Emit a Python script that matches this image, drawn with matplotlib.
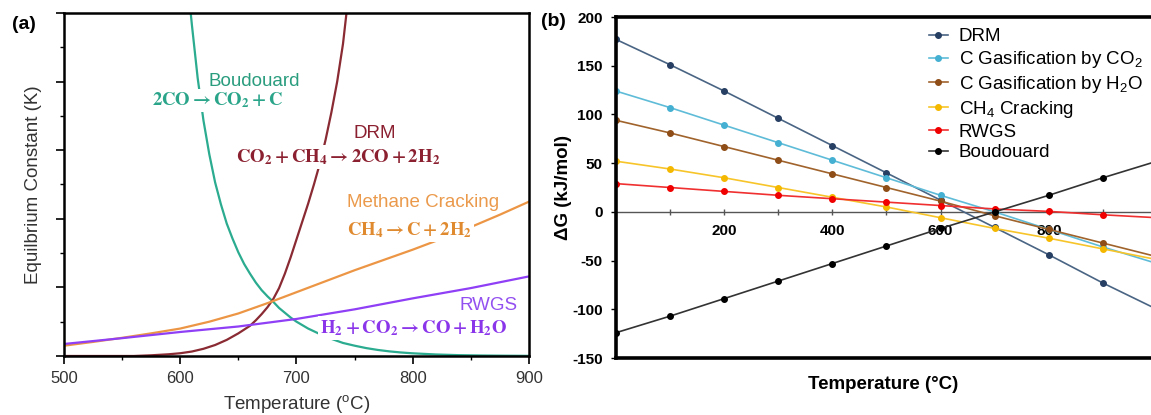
import matplotlib
matplotlib.use("Agg")
import matplotlib.pyplot as plt
import numpy as np
from matplotlib.ticker import MultipleLocator

plt.rcParams['font.family'] = ['Liberation Sans', 'DejaVu Sans']
plt.rcParams['mathtext.fontset'] = 'custom'
plt.rcParams['mathtext.rm'] = 'Liberation Sans'
plt.rcParams['mathtext.it'] = 'Liberation Sans:italic'
plt.rcParams['mathtext.bf'] = 'Liberation Sans:bold'
plt.rcParams['axes.unicode_minus'] = False

# ---- panel (a): equilibrium constants (arbitrary units)
boud_T = [609, 610, 615, 620, 625, 630, 635, 640, 645, 650, 655, 660, 665, 670, 675, 680, 685, 690, 695, 700,
          710, 720, 730, 740, 750, 760, 770, 780, 790, 800, 820, 840, 860, 880, 900]
boud_K = [5.0, 4.83, 4.05, 3.43, 2.94, 2.53, 2.21, 1.93, 1.71, 1.51, 1.34, 1.20, 1.07, 0.96, 0.87, 0.79, 0.70,
          0.63, 0.56, 0.50, 0.40, 0.32, 0.25, 0.19, 0.15, 0.115, 0.088, 0.067, 0.051, 0.039, 0.022, 0.012,
          0.007, 0.004, 0.002]

drm_T = [500, 560, 575, 590, 600, 610, 620, 630, 640, 650, 660, 665, 670, 675, 680, 685, 690, 695, 700,
         705, 710, 715, 720, 725, 730, 735, 740, 743]
drm_K = [0.0, 0.0, 0.01, 0.025, 0.04, 0.065, 0.105, 0.16, 0.235, 0.33, 0.44, 0.52, 0.61, 0.71, 0.83, 0.99,
         1.20, 1.44, 1.70, 1.96, 2.22, 2.50, 2.80, 3.15, 3.55, 4.00, 4.55, 5.0]

mc_T = [500, 525, 550, 575, 600, 625, 650, 675, 700, 725, 750, 775, 800, 825, 850, 875, 900]
mc_K = [0.15, 0.205, 0.265, 0.33, 0.40, 0.50, 0.62, 0.77, 0.93, 1.09, 1.25, 1.40, 1.55, 1.71, 1.88, 2.06, 2.25]

rwgs_T = [500, 550, 600, 650, 700, 750, 800, 850, 900]
rwgs_K = [0.175, 0.26, 0.35, 0.43, 0.54, 0.68, 0.84, 0.99, 1.16]

# ---- panel (b): Gibbs free energy vs temperature
temps = [0, 100, 200, 300, 400, 500, 600, 700, 800, 900, 1000]
dG = {
    "DRM":                        [177, 151, 124, 96, 68, 40, 12, -16, -44, -73, -100],
    "C Gasification by CO$_2$":   [124, 107, 89, 71, 53, 35, 17, 0, -18, -36, -53],
    "C Gasification by H$_2$O":   [94, 81, 67, 53, 39, 25, 11, -4, -18, -32, -46],
    "CH$_4$ Cracking":            [52, 44, 35, 25, 15, 5, -6, -17, -27, -38, -49],
    "RWGS":                       [29, 25, 21, 17, 13.5, 10, 6.5, 3, 0.5, -3, -6],
    "Boudouard":                  [-124, -107, -89, -71, -53, -35, -17, 0, 17, 35, 52],
}
line_cols = ['#4a6584', '#5fbcd8', '#a0632c', '#f7c52a', '#f03030', '#333333']
mark_cols = ['#263f62', '#45b0d2', '#8f4d17', '#f5b800', '#f00000', '#000000']
xtick_pos = [100, 200, 300, 400, 500, 600, 700, 800, 900]
xtick_lab = ['', '200', '', '400', '', '600', '', '800', '']

fig = plt.figure(figsize=(11.51, 4.15), dpi=100)

# ================= (a)
ax1 = fig.add_axes([0.0556, 0.1422, 0.404, 0.8265])
ax1.plot(boud_T, boud_K, color='#2bab8f', lw=1.6, zorder=2)
ax1.plot(drm_T, drm_K, color='#8a2a33', lw=1.6, zorder=2)
ax1.plot(mc_T, mc_K, color='#ec9645', lw=1.6, zorder=2)
ax1.plot(rwgs_T, rwgs_K, color='#8f3ff5', lw=1.6, zorder=2)
ax1.set_xlim(500, 900)
ax1.set_ylim(0, 5)
ax1.xaxis.set_major_locator(MultipleLocator(100))
ax1.xaxis.set_minor_locator(MultipleLocator(50))
ax1.yaxis.set_major_locator(MultipleLocator(1))
ax1.yaxis.set_minor_locator(MultipleLocator(0.5))
ax1.tick_params(which='major', direction='out', length=5.5, width=1.2, labelsize=12,
                labelcolor='#333333', pad=5)
ax1.tick_params(which='minor', direction='out', length=3, width=1.0)
ax1.tick_params(axis='y', labelleft=False)
for s in ax1.spines.values():
    s.set_linewidth(1.8)
ax1.set_xlabel("Temperature ($^{\\rm o}$C)", fontsize=13.5, color='#333333', labelpad=5)
ax1.set_ylabel("Equilbrium Constant (K)", fontsize=13.5, color='#333333')
ax1.yaxis.set_label_coords(-0.048, 0.5)

wb = dict(facecolor='white', edgecolor='none', pad=1.5)
ax1.text(0.31, 0.80, "Boudouard", transform=ax1.transAxes, fontsize=13.5, color='#2a9d7e',
         ha='left', va='center', zorder=3)
ax1.text(0.19, 0.745, r"$\mathbf{2CO \rightarrow CO_2 + C}$", transform=ax1.transAxes, fontsize=13.5,
         color='#2aa58a', ha='left', va='center', math_fontfamily='stix', bbox=wb, zorder=3)
ax1.text(0.622, 0.65, "DRM", transform=ax1.transAxes, fontsize=13.5, color='#8b2030',
         ha='left', va='center', zorder=3)
ax1.text(0.37, 0.58, r"$\mathbf{CO_2 + CH_4 \rightarrow 2CO + 2H_2}$", transform=ax1.transAxes,
         fontsize=13.5, color='#8b2030', ha='left', va='center', math_fontfamily='stix', bbox=wb, zorder=3)
ax1.text(0.608, 0.448, "Methane Cracking", transform=ax1.transAxes, fontsize=13.5, color='#eb9a4c',
         ha='left', va='center', bbox=wb, zorder=3)
ax1.text(0.608, 0.367, r"$\mathbf{CH_4 \rightarrow C + 2H_2}$", transform=ax1.transAxes, fontsize=13.5,
         color='#e08a30', ha='left', va='center', math_fontfamily='stix', bbox=wb, zorder=3)
ax1.text(0.851, 0.146, "RWGS", transform=ax1.transAxes, fontsize=13.5, color='#9350f0',
         ha='left', va='center', zorder=3)
ax1.text(0.55, 0.082, r"$\mathbf{H_2 + CO_2 \rightarrow CO + H_2O}$", transform=ax1.transAxes,
         fontsize=13.5, color='#8a35ea', ha='left', va='center', math_fontfamily='stix', bbox=wb, zorder=3)

# ================= (b)
ax2 = fig.add_axes([0.5352, 0.1373, 0.4648, 0.8217])
for (name, vals), lc, mc in zip(dG.items(), line_cols, mark_cols):
    ax2.plot(temps, vals, color=lc, lw=1.2, marker='o', markersize=4,
             markerfacecolor=mc, markeredgecolor=mc, label=name)
ax2.set_xlim(0, 989)
ax2.set_ylim(-150, 200)
ax2.yaxis.set_major_locator(MultipleLocator(50))
ax2.tick_params(axis='y', direction='out', length=3.5, width=1.0, labelsize=11, pad=6)
for lab in ax2.get_yticklabels():
    lab.set_fontweight('bold')
ax2.tick_params(axis='x', bottom=False, labelbottom=False)
for side in ['left', 'top', 'bottom']:
    ax2.spines[side].set_linewidth(2.6)
ax2.spines['right'].set_visible(False)

zero_ax = ax2.secondary_xaxis(0, transform=ax2.transData)
zero_ax.spines['bottom'].set_color('#555555')
zero_ax.spines['bottom'].set_linewidth(1.0)
zero_ax.set_xticks(xtick_pos, xtick_lab)
zero_ax.tick_params(direction='inout', length=5, width=1.0, color='#555555', labelsize=11, pad=6)
for lab in zero_ax.get_xticklabels():
    lab.set_fontweight('bold')

ax2.set_xlabel("Temperature (°C)", fontsize=13.5, fontweight='bold', labelpad=13)
ax2.set_ylabel("ΔG (kJ/mol)", fontsize=13.5, fontweight='bold')
ax2.yaxis.set_label_coords(-0.083, 0.5)

ax2.legend(loc='upper left', bbox_to_anchor=(0.585, 0.967), frameon=False, fontsize=13.5,
           handlelength=1.0, handletextpad=0.6, labelspacing=0.2, borderpad=0, borderaxespad=0)

fig.text(0.010, 0.94, "(a)", fontsize=14, fontweight='bold', ha='left', va='center')
fig.text(0.470, 0.947, "(b)", fontsize=14, fontweight='bold', ha='left', va='center')

fig.savefig("out.png", dpi=100)
